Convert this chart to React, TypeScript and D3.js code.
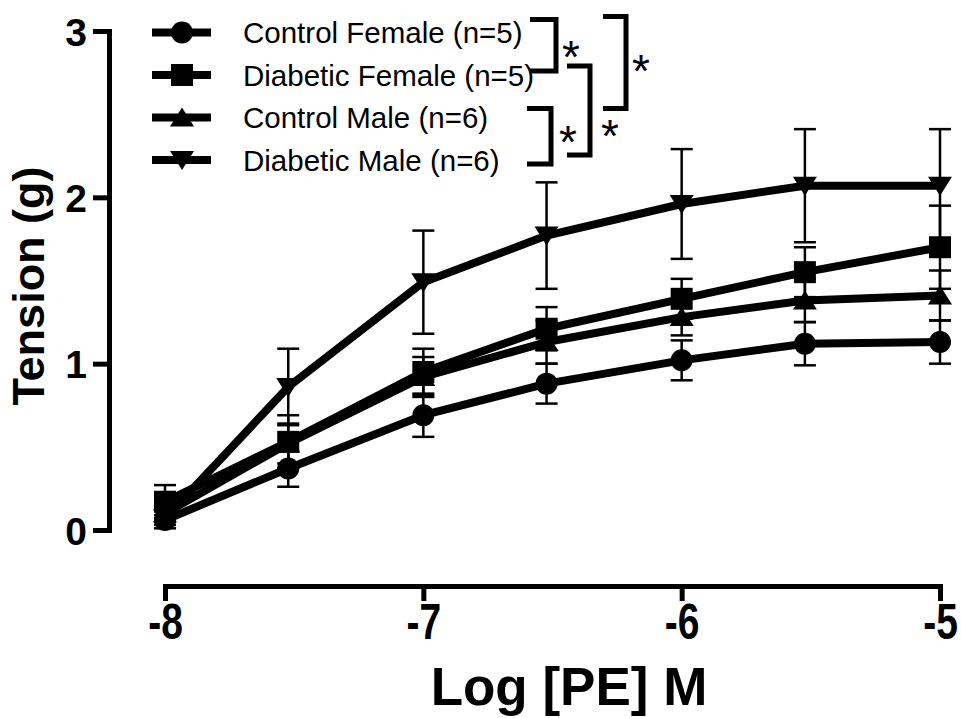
import * as d3 from 'd3';
import React, { useEffect, useRef } from 'react';

const width = 961;
const height = 718;
const font = '"Liberation Sans", Arial, Helvetica, sans-serif';

// log [PE] M, half-log steps are 3x10^n
const logDose = [-8, -7.523, -7, -6.523, -6, -5.523, -5];

const seriesNames = ['Control Female (n=5)', 'Diabetic Female (n=5)', 'Control Male (n=6)', 'Diabetic Male (n=6)'];
const seriesShapes = ['circle', 'square', 'triangleUp', 'triangleDown'];

const controlFemaleMean = [0.06, 0.37, 0.69, 0.88, 1.02, 1.12, 1.13];
const controlFemaleSem = [0.03, 0.11, 0.13, 0.12, 0.12, 0.13, 0.13];
const diabeticFemaleMean = [0.17, 0.53, 0.95, 1.21, 1.39, 1.55, 1.70];
const diabeticFemaleSem = [0.10, 0.16, 0.14, 0.13, 0.12, 0.15, 0.25];
const controlMaleMean = [0.10, 0.52, 0.92, 1.13, 1.28, 1.38, 1.41];
const controlMaleSem = [0.05, 0.12, 0.12, 0.13, 0.11, 0.13, 0.15];
const diabeticMaleMean = [0.07, 0.86, 1.49, 1.77, 1.96, 2.07, 2.07];
const diabeticMaleSem = [0.06, 0.23, 0.31, 0.32, 0.33, 0.34, 0.34];

const xTicks = [-8, -7, -6, -5];
const yTicks = [0, 1, 2, 3];

// significance brackets: which legend rows they join
const brackets = [
  { from: 0, to: 1, x: 556, left: 530, dTop: -13, dBot: -4, star: [571, 47] },
  { from: 2, to: 3, x: 551, left: 527, dTop: -9, dBot: 4, star: [568, 132] },
  { from: 1, to: 3, x: 590, left: 567, dTop: -9, dBot: -5, star: [610, 126] },
  { from: 0, to: 2, x: 626, left: 603, dTop: -16, dBot: -9, star: [641, 61] },
];

const shapePath = (kind) => {
  if (kind === 'circle') return d3.arc()({ innerRadius: 0, outerRadius: 11, startAngle: 0, endAngle: 2 * Math.PI });
  if (kind === 'square') return 'M-11,-11H11V11H-11Z';
  if (kind === 'triangleUp') return 'M0,-10L12,9L-12,9Z';
  return 'M0,10L12,-9L-12,-9Z';
};

const App = () => {
  const xAxisRef = useRef();
  const yAxisRef = useRef();

  const xScale = d3.scaleLinear().domain([-8, -5]).range([165, 940]);
  const yScale = d3.scaleLinear().domain([0, 3]).range([530, 31]);

  const series = [
    { mean: controlFemaleMean, sem: controlFemaleSem },
    { mean: diabeticFemaleMean, sem: diabeticFemaleSem },
    { mean: controlMaleMean, sem: controlMaleSem },
    { mean: diabeticMaleMean, sem: diabeticMaleSem },
  ].map((s, i) => ({ ...s, name: seriesNames[i], shape: seriesShapes[i] }));

  const lineGenerator = d3.line().x((d) => xScale(d[0])).y((d) => yScale(d[1]));

  useEffect(() => {
    const xAxis = d3.axisBottom(xScale).tickValues(xTicks).tickSize(15).tickSizeOuter(0).tickFormat((d) => String(d));
    const yAxis = d3.axisLeft(yScale).tickValues(yTicks).tickSize(16).tickSizeOuter(0).tickPadding(6).tickFormat((d) => String(d));
    [d3.select(xAxisRef.current).call(xAxis), d3.select(yAxisRef.current).call(yAxis)].forEach((g) => {
      g.attr('font-family', font);
      g.selectAll('path').attr('stroke', '#000').attr('stroke-width', 5).attr('stroke-linecap', 'square');
      g.selectAll('line').attr('stroke', '#000').attr('stroke-width', 5);
      g.selectAll('text').attr('fill', '#000').attr('font-size', 39).attr('font-weight', 'bold');
    });
    d3.select(yAxisRef.current).selectAll('text').attr('dy', '0.36em');
    // x tick labels are drawn taller than the y ones
    d3.select(xAxisRef.current).selectAll('text')
      .attr('y', 0).attr('dy', 0)
      .attr('transform', 'translate(0, 53) scale(1, 1.3)');
  }, []);

  const legendRow = (i) => 32.5 + i * 42.5;

  return (
    <svg width={width} height={height} style={{ position: 'absolute', left: 0, top: 0, background: '#fff' }}>
      <g ref={xAxisRef} transform="translate(0, 586)" />
      <g ref={yAxisRef} transform="translate(109, 0)" />

      {series.map((s) => {
        const pts = logDose.map((d, j) => [d, s.mean[j]]);
        return (
          <g key={s.name}>
            {pts.map((p, j) => {
              const cx = xScale(p[0]);
              const y1 = yScale(p[1] + s.sem[j]);
              const y2 = yScale(p[1] - s.sem[j]);
              return (
                <g key={j} stroke="#000" strokeWidth={2.5}>
                  <line x1={cx} x2={cx} y1={y1} y2={y2} />
                  <line x1={cx - 11} x2={cx + 11} y1={y1} y2={y1} />
                  <line x1={cx - 11} x2={cx + 11} y1={y2} y2={y2} />
                </g>
              );
            })}
            <path d={lineGenerator(pts)} fill="none" stroke="#000" strokeWidth={8} strokeLinejoin="round" />
            {pts.map((p, j) => (
              <path key={j} d={shapePath(s.shape)} transform={`translate(${xScale(p[0])},${yScale(p[1])})`} fill="#000" />
            ))}
          </g>
        );
      })}

      <g>
        {series.map((s, i) => (
          <g key={s.name} transform={`translate(0, ${legendRow(i)})`}>
            <line x1={152} x2={211} y1={0} y2={0} stroke="#000" strokeWidth={8} />
            <path d={shapePath(s.shape)} transform="translate(182, 0)" fill="#000" />
            <text x={243} y={10.5} fontFamily={font} fontSize={29.5} fill="#000">{s.name}</text>
          </g>
        ))}
      </g>

      <g stroke="#000" strokeWidth={5} fill="none" strokeLinejoin="miter">
        {brackets.map((b, i) => {
          const t = legendRow(b.from) + b.dTop;
          const bt = legendRow(b.to) + b.dBot;
          return <path key={i} d={`M${b.left},${t}H${b.x}V${bt}H${b.left}`} />;
        })}
      </g>
      {brackets.map((b, i) => (
        <text key={i} x={b.star[0]} y={b.star[1] + 0.57 * 46} textAnchor="middle" fontFamily={font} fontSize={46} fill="#000">*</text>
      ))}

      <text x={569} y={705} textAnchor="middle" fontFamily={font} fontSize={53} fontWeight="bold" fill="#000">Log [PE] M</text>
      <text transform="translate(44, 286) rotate(-90)" textAnchor="middle" fontFamily={font} fontSize={45} fontWeight="bold" fill="#000">Tension (g)</text>
    </svg>
  );
};

export default App;
